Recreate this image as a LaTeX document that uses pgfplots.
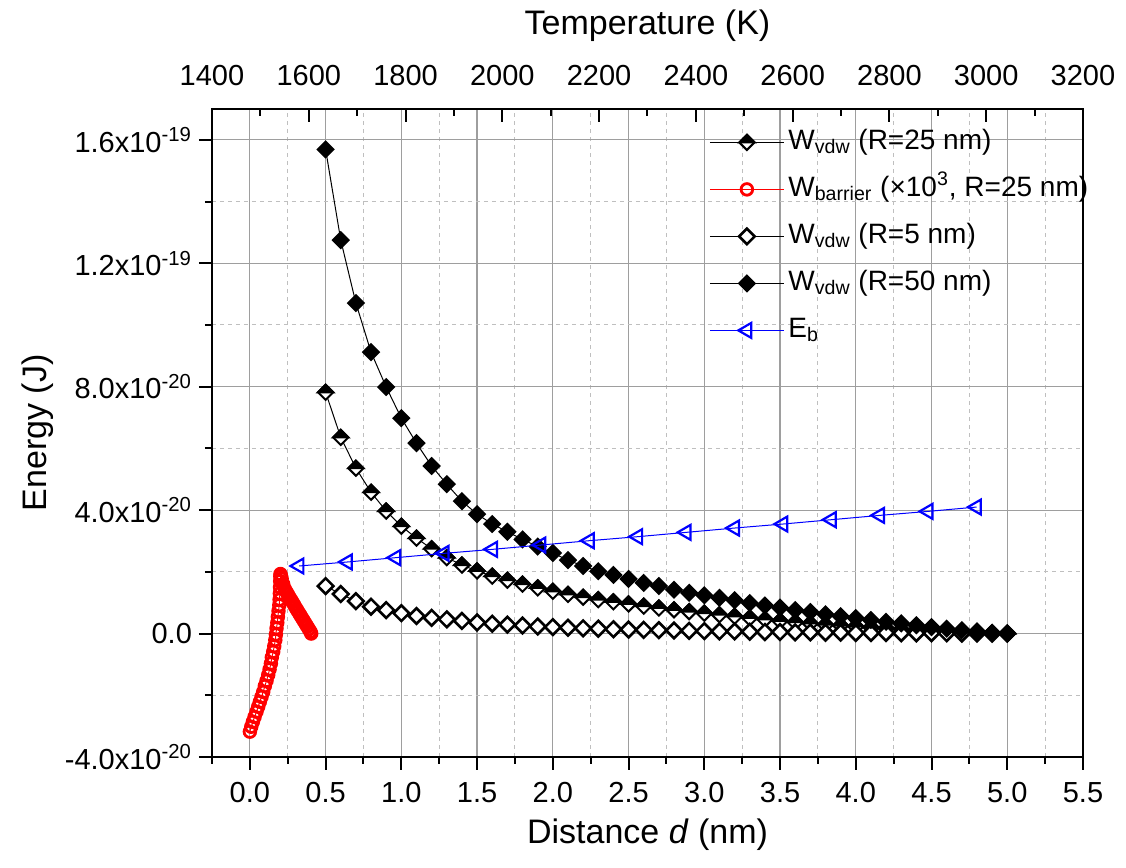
\documentclass[border=0pt]{standalone}
\usepackage{fontspec}
\setmainfont{Liberation Sans}
\usepackage{pgfplots}
\usepackage{pgfplotstable}
\pgfplotsset{compat=1.18}

\pgfdeclareplotmark{dia}{%
  \pgfpathmoveto{\pgfqpoint{-\pgfplotmarksize}{0pt}}%
  \pgfpathlineto{\pgfqpoint{0pt}{-\pgfplotmarksize}}%
  \pgfpathlineto{\pgfqpoint{\pgfplotmarksize}{0pt}}%
  \pgfpathlineto{\pgfqpoint{0pt}{\pgfplotmarksize}}%
  \pgfpathclose
  \pgfusepathqfillstroke}
\pgfdeclareplotmark{halfdia}{%
  \pgfpathmoveto{\pgfqpoint{-\pgfplotmarksize}{0pt}}%
  \pgfpathlineto{\pgfqpoint{0pt}{-\pgfplotmarksize}}%
  \pgfpathlineto{\pgfqpoint{\pgfplotmarksize}{0pt}}%
  \pgfpathlineto{\pgfqpoint{0pt}{\pgfplotmarksize}}%
  \pgfpathclose
  \pgfsetfillcolor{white}%
  \pgfusepathqfillstroke
  \pgfpathmoveto{\pgfqpoint{-\pgfplotmarksize}{0pt}}%
  \pgfpathlineto{\pgfqpoint{0pt}{\pgfplotmarksize}}%
  \pgfpathlineto{\pgfqpoint{\pgfplotmarksize}{0pt}}%
  \pgfpathclose
  \pgfsetfillcolor{black}%
  \pgfusepathqfillstroke}

% energies in units of 1e-20 J
\pgfplotstableread{
d r25 r5 r50
0.5 7.82 1.54 15.69
0.6 6.36 1.28 12.75
0.7 5.36 1.05 10.71
0.8 4.58 0.87 9.12
0.9 3.97 0.76 7.99
1.0 3.48 0.66 6.98
1.1 3.09 0.57 6.17
1.2 2.75 0.51 5.43
1.3 2.46 0.46 4.84
1.4 2.22 0.41 4.29
1.5 2.03 0.36 3.87
1.6 1.86 0.32 3.55
1.7 1.73 0.29 3.30
1.8 1.60 0.26 3.05
1.9 1.48 0.23 2.82
2.0 1.37 0.21 2.61
2.1 1.27 0.19 2.38
2.2 1.18 0.17 2.19
2.3 1.10 0.16 2.02
2.4 1.03 0.14 1.90
2.5 0.96 0.13 1.77
2.6 0.89 0.12 1.64
2.7 0.83 0.11 1.54
2.8 0.77 0.10 1.42
2.9 0.71 0.09 1.32
3.0 0.66 0.08 1.24
3.1 0.61 0.07 1.16
3.2 0.56 0.07 1.08
3.3 0.51 0.06 0.99
3.4 0.46 0.05 0.91
3.5 0.41 0.05 0.84
3.6 0.37 0.04 0.76
3.7 0.33 0.04 0.70
3.8 0.29 0.03 0.62
3.9 0.26 0.03 0.56
4.0 0.23 0.02 0.50
4.1 0.20 0.02 0.44
4.2 0.17 0.02 0.38
4.3 0.14 0.01 0.33
4.4 0.12 0.01 0.27
4.5 0.09 0.01 0.21
4.6 0.07 0.01 0.16
4.7 0.05 0.00 0.11
4.8 0.03 0.00 0.07
4.9 0.02 0.00 0.03
5.0 0.00 0.00 0.00
}\vdwtable

\pgfplotstableread{
d E
0.000 -3.18
0.009 -3.02
0.020 -2.86
0.031 -2.70
0.044 -2.53
0.055 -2.37
0.066 -2.21
0.077 -2.05
0.088 -1.89
0.099 -1.70
0.110 -1.53
0.121 -1.34
0.130 -1.16
0.139 -0.97
0.145 -0.77
0.154 -0.59
0.161 -0.41
0.168 -0.21
0.172 -0.03
0.176 0.17
0.181 0.35
0.185 0.54
0.189 0.73
0.194 0.92
0.196 1.10
0.198 1.30
0.199 1.50
0.200 1.70
0.201 1.85
0.202 1.93
0.205 1.88
0.210 1.78
0.220 1.60
0.230 1.45
0.240 1.36
0.250 1.28
0.260 1.19
0.270 1.11
0.280 1.03
0.290 0.95
0.300 0.86
0.310 0.78
0.320 0.70
0.330 0.62
0.340 0.54
0.350 0.46
0.360 0.38
0.370 0.30
0.380 0.22
0.390 0.14
0.400 0.06
0.405 0.00
}\barriertable

\pgfplotstableread{
T E
1580 2.19
1680 2.32
1780 2.46
1880 2.60
1980 2.73
2080 2.87
2180 3.01
2280 3.14
2380 3.28
2480 3.42
2580 3.55
2680 3.69
2780 3.83
2880 3.96
2980 4.10
}\ebtable

\pgfplotsset{
  tick label style={font=\fontsize{14.5}{17}\selectfont},
  label style={font=\fontsize{17}{20}\selectfont},
  every tick/.style={black, line width=1pt},
}

\begin{document}
\begin{tikzpicture}
\useasboundingbox (-106pt,-55.5pt) rectangle (457pt,378.5pt);
\begin{axis}[
  at={(0pt,0pt)}, anchor=south west,
  scale only axis, width=435.5pt, height=324pt,
  xmin=-0.25, xmax=5.5, ymin=-4, ymax=17,
  xtick={0,0.5,...,5.5}, minor xtick={-0.25,0.25,0.75,...,5.25},
  ytick={-4,0,4,8,12,16}, minor ytick={-2,2,6,10,14},
  yticklabels={{-4.0x10\textsuperscript{-20}},{0.0},{4.0x10\textsuperscript{-20}},{8.0x10\textsuperscript{-20}},{1.2x10\textsuperscript{-19}},{1.6x10\textsuperscript{-19}}},
  xtick pos=left, ytick pos=left,
  tick align=outside,
  major tick length=6.5pt, minor tick length=3.5pt,
  grid=both,
  major grid style={color=black!38, line width=0.6pt},
  minor grid style={color=black!25, line width=0.5pt, dash pattern=on 2pt off 2pt},
  axis line style={line width=1pt},
  x tick label style={yshift=-2.5pt, /pgf/number format/.cd, fixed, fixed zerofill, precision=1, assume math mode=true},
  xlabel={Distance \textit{d} (nm)},
  ylabel={Energy (J)},
  xlabel style={at={(axis description cs:0.5,-0.1200)}, anchor=center},
  ylabel style={at={(axis description cs:-0.2000,0.5)}, anchor=center},
]
\addplot[black, line width=0.5pt, mark=halfdia, mark size=3.8pt, mark options={solid, line width=1pt}] table[x=d, y=r25] {\vdwtable};
\addplot[red, line width=0.5pt, mark=o, mark size=2.9pt, mark options={solid, line width=1.4pt}] table[x=d, y=E] {\barriertable};
\addplot[black, line width=0.5pt, mark=dia, mark size=3.9pt, mark options={solid, fill=white, line width=1.3pt}] table[x=d, y=r5] {\vdwtable};
\addplot[black, line width=0.5pt, mark=dia, mark size=3.9pt, mark options={solid, fill=black, line width=1pt}] table[x=d, y=r50] {\vdwtable};
\end{axis}
\begin{axis}[
  at={(0pt,0pt)}, anchor=south west,
  scale only axis, width=435.5pt, height=324pt,
  xmin=1400, xmax=3200, ymin=-4, ymax=17,
  axis line style={draw=none},
  xtick={1400,1600,...,3200}, minor xtick={1500,1700,...,3100},
  xtick pos=right, xticklabel pos=right,
  ytick=\empty,
  tick align=inside,
  major tick length=6.5pt, minor tick length=3.5pt,
  scaled x ticks=false,
  x tick label style={yshift=8pt, /pgf/number format/.cd, 1000 sep={}, assume math mode=true},
  xlabel={Temperature (K)},
  xlabel style={at={(axis description cs:0.5,1.128)}, anchor=center},
  legend style={at={(axis description cs:0.5706,0.9784)}, anchor=north west,
    draw=none, fill=none, inner sep=0pt, row sep=4.5pt,
    font=\fontsize{14}{17}\selectfont,
    nodes={inner sep=2pt, text height=11pt, text depth=4pt}},
  legend cell align=left,
  legend image code/.code={\draw[mark repeat=2, mark phase=2] plot coordinates {(0pt,0pt) (18.5pt,0pt) (37pt,0pt)};},
]
\addlegendimage{black, line width=0.5pt, mark=halfdia, mark size=3.8pt, mark options={solid, line width=1pt}}
\addlegendentry{W\textsubscript{vdw} (R=25 nm)}
\addlegendimage{red, line width=0.5pt, mark=o, mark size=2.9pt, mark options={solid, line width=1.4pt}}
\addlegendentry{W\textsubscript{barrier} (×10\textsuperscript{3}, R=25 nm)}
\addlegendimage{black, line width=0.5pt, mark=dia, mark size=3.9pt, mark options={solid, fill=white, line width=1.3pt}}
\addlegendentry{W\textsubscript{vdw} (R=5 nm)}
\addlegendimage{black, line width=0.5pt, mark=dia, mark size=3.9pt, mark options={solid, fill=black, line width=1pt}}
\addlegendentry{W\textsubscript{vdw} (R=50 nm)}
\addplot[blue, line width=0.5pt, mark=triangle, mark size=4.3pt, mark options={solid, rotate=90, line width=1.1pt, fill=white}] table[x=T, y=E] {\ebtable};
\addlegendentry{E\textsubscript{b}}
\end{axis}
\end{tikzpicture}
\end{document}
